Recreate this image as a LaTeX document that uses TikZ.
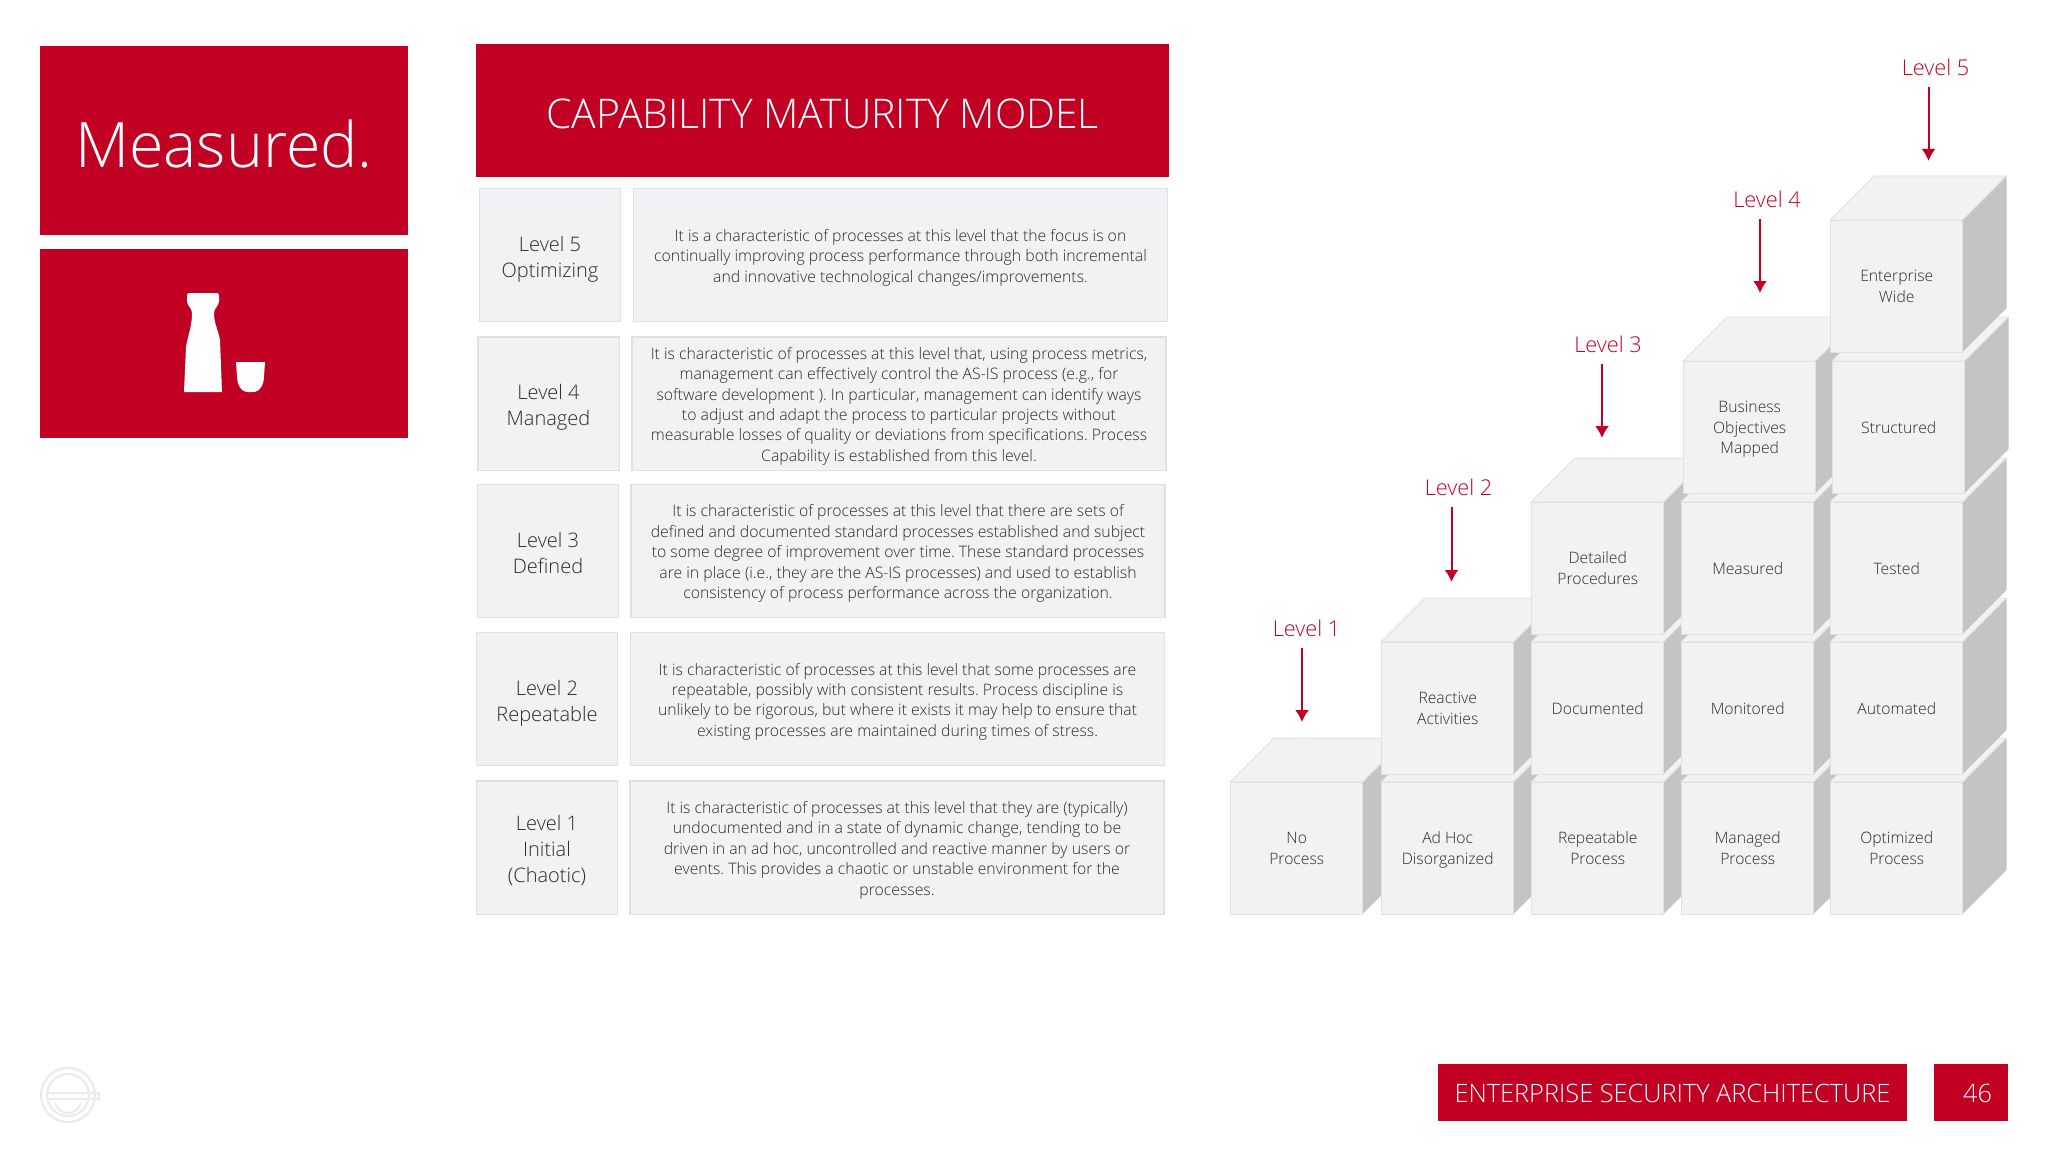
\documentclass[tikz,border=0pt]{standalone}
\usepackage{fontspec}
\setmainfont{Open Sans Light}
\frenchspacing
\usetikzlibrary{arrows.meta,positioning}
\definecolor{deepred}{HTML}{C20024}
\definecolor{boxfill}{HTML}{F2F2F5}
\definecolor{boxline}{HTML}{E0E0E3}
\definecolor{sidefill}{HTML}{C4C4C7}
\definecolor{inktext}{HTML}{2A2A2A}
\tikzset{
  redbox/.style={fill=deepred,text=white,inner sep=0pt,align=center},
  levelbox/.style={draw=boxline,line width=1pt,fill=boxfill,text=inktext,minimum width=106pt,minimum height=100pt,inner sep=0pt,font=\fontsize{15}{19.5}\selectfont},
  textbox/.style={draw=boxline,line width=1pt,fill=boxfill,text=inktext,minimum width=400.5pt,minimum height=100pt,inner sep=0pt,font=\fontsize{11.85}{15.3}\selectfont},
  cubefront/.style={draw=boxline,line width=.9pt,fill=boxfill,text=inktext,anchor=north west,minimum width=99.2pt,minimum height=99pt,inner sep=0pt,font=\fontsize{11.8}{15.3}\selectfont},
  cubetop/.style={draw=boxline,line width=.7pt,fill=boxfill},
  cubeside/.style={fill=sidefill},
  levellabel/.style={text=deepred,minimum height=30pt,inner sep=0pt,font=\fontsize{16.3}{20}\selectfont},
  levelarrow/.style={draw=deepred,fill=deepred,line width=1.5pt,-{Latex[length=9pt,width=10.5pt]}},
  logoline/.style={draw=black!8,line width=1.6pt}
}
\newcommand{\lowtext}[2]{\raisebox{-#1}[\height][\depth]{\begin{tabular}{@{}c@{}}#2\end{tabular}}}
\newcommand{\cubebox}[4]{
\fill[cubeside] (#2+132.5,#3) -- ++(44,-44) -- ++(0,132) -- ++(-44,44) -- cycle;
\draw[cubetop] (#2,#3) -- ++(44,-44) -- ++(132.5,0) -- ++(-44,44) -- cycle;
\node[cubefront] (#1) at (#2,#3) {\lowtext{1pt}{#4}};
}
\begin{document}
\begin{tikzpicture}[x=0.75pt,y=-0.75pt,>=Latex]
\useasboundingbox (0,0) rectangle (2048,1152);
\fill[white] (0,0) rectangle (2048,1152);
% left panels
\node[redbox,minimum width=276pt,minimum height=141.75pt,font=\fontsize{47}{56}\selectfont] (heading) at (224,140.5) {\lowtext{9pt}{Measured.}};
\node[redbox,minimum width=276pt,minimum height=141.75pt] (iconpanel) at (224,343.5) {};
\fill[white] (189,293) -- (217,293) to[out=0,in=90] (219,296) -- (219,301) to[out=-90,in=90] (214,313) to[out=-90,in=100] (220,340) -- (222,392) -- (184,392) -- (186,347) to[out=80,in=-90] (192,313) to[out=90,in=-90] (187,301) -- (187,296) to[out=90,in=180] (189,293) -- cycle;
\fill[white] (236,362) -- (265,362) -- (264,376) to[out=-90,in=0] (253,392) -- (248,392) to[out=180,in=-90] (237,376) -- cycle;
% table
\node[redbox,minimum width=519.75pt,minimum height=99.75pt,font=\fontsize{30.7}{36}\selectfont] (title) at (822.5,111) {\lowtext{6pt}{CAPABILITY MATURITY MODEL}};
\node[levelbox] (lab5) at (550,255) {\lowtext{3pt}{Level 5\\Optimizing}};
\node[textbox] (txt5) at (900.5,255) {\lowtext{2pt}{It is a characteristic of processes at this level that the focus is on\\continually improving process performance through both incremental\\and innovative technological changes/improvements.}};
\node[levelbox] (lab4) at (548.5,403.5) {\lowtext{3pt}{Level 4\\Managed}};
\node[textbox] (txt4) at (899,403.5) {\lowtext{2pt}{It is characteristic of processes at this level that, using process metrics,\\management can effectively control the AS-IS process (e.g., for\\software development ). In particular, management can identify ways\\to adjust and adapt the process to particular projects without\\measurable losses of quality or deviations from specifications. Process\\Capability is established from this level.}};
\node[levelbox] (lab3) at (548,551) {\lowtext{3pt}{Level 3\\Defined}};
\node[textbox] (txt3) at (898,551) {\lowtext{2pt}{It is characteristic of processes at this level that there are sets of\\defined and documented standard processes established and subject\\to some degree of improvement over time. These standard processes\\are in place (i.e., they are the AS-IS processes) and used to establish\\consistency of process performance across the organization.}};
\node[levelbox] (lab2) at (547,699) {\lowtext{3pt}{Level 2\\Repeatable}};
\node[textbox] (txt2) at (897.5,699) {\lowtext{2pt}{It is characteristic of processes at this level that some processes are\\repeatable, possibly with consistent results. Process discipline is\\unlikely to be rigorous, but where it exists it may help to ensure that\\existing processes are maintained during times of stress.}};
\node[levelbox] (lab1) at (547,847.5) {\lowtext{3pt}{Level 1\\Initial\\(Chaotic)}};
\node[textbox] (txt1) at (897,847.5) {\lowtext{2pt}{It is characteristic of processes at this level that they are (typically)\\undocumented and in a state of dynamic change, tending to be\\driven in an ad hoc, uncontrolled and reactive manner by users or\\events. This provides a chaotic or unstable environment for the\\processes.}};
% cubes
\cubebox{noproc}{1230}{782}{No\\Process}
\cubebox{adhoc}{1381}{782}{Ad Hoc\\Disorganized}
\cubebox{reactive}{1381}{642}{Reactive\\Activities}
\cubebox{repeat}{1531}{782}{Repeatable\\Process}
\cubebox{document}{1531}{642}{Documented}
\cubebox{detailed}{1531}{502}{Detailed\\Procedures}
\cubebox{managed}{1681}{782}{Managed\\Process}
\cubebox{monitor}{1681}{642}{Monitored}
\cubebox{measure}{1681}{502}{Measured}
\cubebox{business}{1683}{361}{Business\\Objectives\\Mapped}
\cubebox{optimized}{1830}{782}{Optimized\\Process}
\cubebox{automate}{1830}{642}{Automated}
\cubebox{tested}{1830}{502}{Tested}
\cubebox{structure}{1832}{361}{Structured}
\cubebox{enterprise}{1830}{220}{Enterprise\\Wide}
% level arrows
\node[levellabel] (lv1) at (1306.5,628) {Level 1};
\node[levellabel] (lv2) at (1458.5,487) {Level 2};
\node[levellabel] (lv3) at (1608,344) {Level 3};
\node[levellabel] (lv4) at (1767,199) {Level 4};
\node[levellabel] (lv5) at (1935.5,67) {Level 5};
\coordinate (a1) at (1302,722);
\coordinate (a2) at (1451.5,582);
\coordinate (a3) at (1602,438);
\coordinate (a4) at (1760,293);
\coordinate (a5) at (1928.5,161);
\draw[levelarrow] (lv1.south -| a1) -- (a1);
\draw[levelarrow] (lv2.south -| a2) -- (a2);
\draw[levelarrow] (lv3.south -| a3) -- (a3);
\draw[levelarrow] (lv4.south -| a4) -- (a4);
\draw[levelarrow] (lv5.south -| a5) -- (a5);
% footer
\node[redbox,minimum width=351.75pt,minimum height=42.75pt,font=\fontsize{19}{24}\selectfont] (footer) at (1672.5,1092.5) {\lowtext{3pt}{ENTERPRISE SECURITY ARCHITECTURE}};
\node[redbox,minimum width=55.5pt,minimum height=42.75pt,text width=31.5pt,align=right,font=\fontsize{19}{24}\selectfont] (pagenum) at (1971,1092.5) {\lowtext{3pt}{46}};
% logo
\draw[logoline] (68,1095) circle (27);
\draw[logoline] (68,1095) circle (21);
\draw[logoline] (48,1093) -- (99,1093) -- (99,1099) -- (48,1099);
\draw[logoline] (55,1103) to[out=-70,in=180] (68,1113) to[out=0,in=-110] (81,1103);
\end{tikzpicture}
\end{document}
